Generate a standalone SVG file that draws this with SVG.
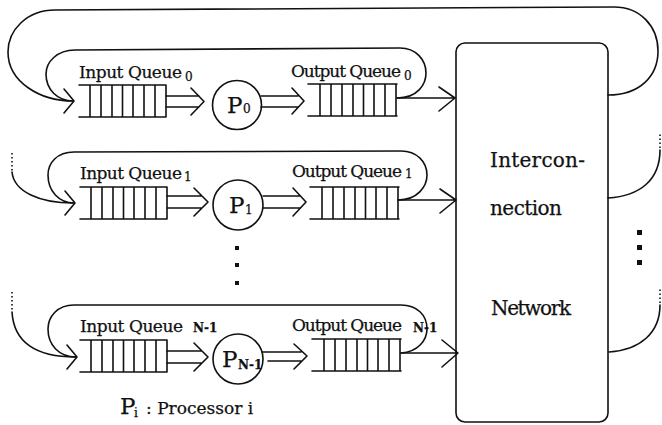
<svg xmlns="http://www.w3.org/2000/svg" width="662" height="425" viewBox="0 0 662 425">
<style>
.ln{fill:none;stroke:#111;stroke-width:1.6;stroke-linecap:round;stroke-linejoin:round}
.dot{fill:none;stroke:#111;stroke-width:1.6;stroke-dasharray:1.5 2.5}
text{font-family:"DejaVu Serif","Liberation Serif",serif;fill:#111;stroke:#111;stroke-width:0.25}
.lbl{font-size:17px}
.sub{font-size:12px}
.subb{font-size:12px;font-weight:bold}
.big{font-size:23px}
.net{font-size:20px}
.sq{fill:#111}
</style>
<defs>
<g id="iq">
<path class="ln" d="M0,0 H87 M0,32 H87 M11,0 V32 M22,0 V32 M33,0 V32 M43.5,0 V32 M54,0 V32 M65,0 V32 M76,0 V32 M87,0 V32"/>
</g>
<g id="oq">
<path class="ln" d="M0,0 H89 M0,32 H89 M12,0 V32 M23,0 V32 M34,0 V32 M45,0 V32 M55.5,0 V32 M66,0 V32 M77,0 V32 M88,0 V32"/>
</g>
</defs>

<g id="network">
<rect class="ln" x="456" y="43" width="152" height="379" rx="9"/>
<text class="net" x="490" y="167" textLength="95">Intercon-</text>
<text class="net" x="490" y="215" textLength="72">nection</text>
<text class="net" x="491" y="315" textLength="80">Network</text>
</g>

<g id="row0">
<use href="#iq" x="79" y="85"/>
<text class="lbl" x="79" y="78" textLength="103">Input Queue</text>
<text class="sub" x="185" y="81">0</text>
<circle class="ln" cx="237" cy="105" r="24.5"/>
<text class="big" x="227" y="113">P</text>
<text class="sub" x="243" y="113">0</text>
<use href="#oq" x="308" y="84"/>
<text class="lbl" x="291" y="77" textLength="110">Output Queue</text>
<text class="sub" x="404" y="80">0</text>
</g>

<g id="row1">
<use href="#iq" x="80" y="187"/>
<text class="lbl" x="80" y="179" textLength="102">Input Queue</text>
<text class="sub" x="184" y="181">1</text>
<circle class="ln" cx="238" cy="205" r="25"/>
<text class="big" x="229" y="213">P</text>
<text class="sub" x="245" y="214">1</text>
<use href="#oq" x="310" y="187"/>
<text class="lbl" x="292" y="177" textLength="110">Output Queue</text>
<text class="sub" x="405" y="178">1</text>
</g>

<g id="rowN">
<use href="#iq" x="80" y="340"/>
<text class="lbl" x="80" y="332" textLength="103">Input Queue</text>
<text class="subb" x="193" y="332">N-1</text>
<circle class="ln" cx="238" cy="359" r="25"/>
<text class="big" x="222" y="367">P</text>
<text class="subb" x="238" y="369">N-1</text>
<use href="#oq" x="312" y="339"/>
<text class="lbl" x="292" y="331" textLength="110">Output Queue</text>
<text class="subb" x="413" y="332">N-1</text>
</g>

<g id="dots">
<rect class="sq" x="235" y="246" width="4" height="4"/>
<rect class="sq" x="235" y="263" width="4" height="4"/>
<rect class="sq" x="235" y="281" width="4" height="4"/>
<rect class="sq" x="637" y="230" width="5" height="5"/>
<rect class="sq" x="637" y="245" width="5" height="5"/>
<rect class="sq" x="637" y="260" width="5" height="5"/>
</g>

<g id="legend">
<text class="big" x="120" y="414" font-size="20">P</text>
<text class="sub" x="134" y="417" font-size="10">i</text>
<text class="lbl" x="146" y="414">: Processor i</text>
</g>

<g id="connectors">
<!-- row 0 -->
<path class="ln" d="M166,96 H199 M166,107 H199 M191,88 L204,101.5 L191,115"/>
<path class="ln" d="M261,96 H298 M261,107 H298 M292,88 L304,101 L292,114"/>
<path class="ln" d="M397,98 H455 M439,87 L455,98 L439,111"/>
<path class="ln" d="M397,98 C418,98 426,84 426,73 C426,60 416,48 400,48 L75,50 C57,50 46,62 46,74 C46,90 58,101 73,101"/>
<path class="ln" d="M608,95 C640,95 658,76 658,51 C658,26 640,7 614,7 L55,10 C27,10 8,30 8,52 C8,82 40,101 73,101"/>
<path class="ln" d="M64,89 L74,101 L64,113"/>
<!-- row 1 -->
<path class="ln" d="M167,196 H202 M167,208 H202 M194,188 L208,202 L194,216"/>
<path class="ln" d="M263,196 H300 M263,208 H300 M293,188 L306,202 L293,216"/>
<path class="ln" d="M398,200 H456 M440,189 L456,200 L440,213"/>
<path class="ln" d="M398,200 C418,200 427,186 427,175 C427,162 417,151 401,151 L74,152 C57,152 48,163 48,175 C48,191 59,203 74,203"/>
<path class="dot" d="M12,153 V171"/>
<path class="ln" d="M12,172 C14,192 40,203 73,203"/>
<path class="ln" d="M65,191 L75,203 L65,215"/>
<path class="ln" d="M608,198 C640,196 660,180 660,150"/>
<path class="dot" d="M660,148 V133"/>
<!-- row N-1 -->
<path class="ln" d="M167,351 H202 M167,363 H202 M194,343 L208,357 L194,371"/>
<path class="ln" d="M262,352 H301 M268,361 H301 M294,344 L307,356 L294,369"/>
<path class="ln" d="M401,353 H458 M442,340 L458,353 L442,367"/>
<path class="ln" d="M401,353 C418,352 427,340 427,329 C427,315 417,305 401,305 L74,305 C57,305 48,317 48,329 C48,345 59,357 76,357"/>
<path class="dot" d="M12,292 V310"/>
<path class="ln" d="M12,312 C14,345 40,357 76,357"/>
<path class="ln" d="M67,345 L77,357 L67,369"/>
<path class="ln" d="M609,352 C640,350 660,333 660,305"/>
<path class="dot" d="M660,303 V288"/>
</g>
</svg>
